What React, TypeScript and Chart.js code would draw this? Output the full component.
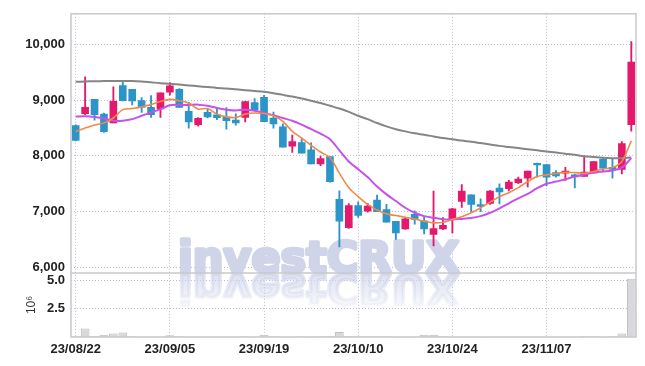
import React, { useEffect, useRef } from 'react';
import { Chart, registerables } from 'chart.js';
Chart.register(...registerables);

const dates = [
  '23/08/22','23/08/23','23/08/24','23/08/25','23/08/28','23/08/29','23/08/30','23/08/31',
  '23/09/01','23/09/04','23/09/05','23/09/06','23/09/07','23/09/08','23/09/11','23/09/12','23/09/13','23/09/14','23/09/15','23/09/18','23/09/19','23/09/20','23/09/21','23/09/22','23/09/25','23/09/26','23/09/27',
  '23/10/04','23/10/05','23/10/06','23/10/10','23/10/11','23/10/12','23/10/13','23/10/16','23/10/17','23/10/18','23/10/19','23/10/20','23/10/23','23/10/24','23/10/25','23/10/26','23/10/27','23/10/30','23/10/31',
  '23/11/01','23/11/02','23/11/03','23/11/06','23/11/07','23/11/08','23/11/09','23/11/10','23/11/13','23/11/14','23/11/15','23/11/16','23/11/17','23/11/20',
];

const opens = [8544,8756,9016,8751,8592,9263,9193,8993,8874,8844,9145,9193,8798,8562,8781,8738,8698,8645,8692,8957,9051,8680,8521,8173,8238,8109,7855,7986,7219,6713,7107,7007,7208,7037,6825,6689,6954,6837,6590,6689,6855,7183,7302,7125,7148,7425,7413,7519,7602,7867,7845,7703,7690,7660,7632,7696,7944,7797,7756,8562];
const highs = [8560,9417,9016,8768,9240,9340,9193,9046,9081,9134,9316,9210,8963,8690,8839,8869,8869,8756,8975,9028,9087,8786,8574,8374,8314,8233,7996,7990,7372,7143,7178,7148,7297,7130,6825,6885,7014,6913,7367,6895,7060,7484,7302,7230,7380,7500,7560,7620,7726,7870,7850,7738,7797,7670,8003,7900,7950,7944,8256,10053];
const lows = [8270,8740,8640,8420,8590,8986,8915,8781,8692,8692,9092,8869,8498,8533,8680,8650,8480,8551,8609,8827,8615,8498,8155,8062,8049,7855,7827,7530,6365,6700,6896,6990,7001,6812,6501,6680,6777,6600,6383,6678,6618,7077,7001,7000,7130,7137,7370,7500,7443,7620,7460,7620,7562,7425,7630,7690,7720,7602,7678,8445];
const closes = [8279,8874,8738,8433,8980,8993,8986,8869,8738,9134,9258,8869,8609,8675,8698,8685,8632,8592,8975,8827,8615,8574,8155,8256,8049,7855,7950,7537,6830,7107,6931,7102,7001,6812,6618,6872,6860,6689,6696,6754,7049,7367,7130,7095,7367,7355,7531,7584,7726,7837,7620,7643,7726,7625,7708,7897,7779,7756,8221,9682];

const ma5 = [8440,8500,8555,8590,8680,8830,8850,8880,8920,8975,9015,8990,8950,8840,8850,8750,8700,8690,8750,8770,8760,8720,8620,8440,8320,8190,8070,7970,7690,7430,7270,7130,7030,6960,6930,6900,6870,6830,6800,6810,6860,6910,6980,7070,7170,7270,7340,7430,7540,7630,7660,7685,7705,7700,7690,7720,7765,7790,7900,8270];
const ma20 = [8705,8710,8700,8670,8630,8633,8660,8720,8780,8840,8910,8915,8915,8920,8900,8860,8830,8815,8830,8810,8770,8730,8680,8630,8560,8480,8400,8300,8100,7900,7760,7620,7450,7310,7190,7070,6980,6920,6890,6865,6860,6870,6885,6920,6980,7060,7150,7240,7320,7420,7500,7540,7580,7630,7665,7700,7720,7740,7790,7960];
const ma60 = [9330,9335,9340,9343,9345,9346,9345,9335,9320,9305,9295,9280,9265,9250,9235,9220,9210,9195,9180,9165,9150,9125,9095,9065,9030,8990,8950,8900,8850,8790,8720,8660,8590,8530,8480,8440,8405,8380,8350,8320,8300,8275,8255,8230,8205,8180,8160,8140,8120,8100,8080,8060,8040,8020,7995,7980,7965,7960,7960,7970];

const volumes = [60000,750000,90000,200000,300000,400000,60000,50000,40000,50000,150000,60000,50000,40000,40000,50000,40000,40000,60000,50000,200000,60000,50000,40000,60000,50000,60000,80000,450000,90000,60000,60000,70000,60000,50000,40000,50000,200000,200000,60000,50000,40000,40000,30000,40000,50000,50000,40000,30000,40000,50000,40000,40000,50000,60000,60000,50000,60000,300000,5150000];

const priceTicks = [6000, 7000, 8000, 9000, 10000];
const volumeTicks = [2500000, 5000000];
const xTickEvery = 10;

const FONT = "'Liberation Sans', Arial, sans-serif";

export default function App() {
  const ref = useRef<HTMLCanvasElement>(null);
  useEffect(() => {
    const up = '#e5196c';
    const down = '#2c95c7';
    const colors = closes.map((c, i) => (c >= opens[i] ? up : down));
    const gridColor = '#bcbcd4';

    const watermark = {
      id: 'watermark',
      beforeDatasetsDraw(chart: any) {
        const { ctx, chartArea } = chart;
        const yp = chart.scales.y;
        const base = yp.bottom - 1;
        const x = chartArea.left + 107;
        const col = '207,212,233';
        ctx.save();
        ctx.font = "bold 43px 'DejaVu Sans', sans-serif";
        ctx.textBaseline = 'alphabetic';
        ctx.lineJoin = 'round';
        ctx.lineWidth = 3.5;
        ctx.fillStyle = `rgba(${col},1)`;
        ctx.strokeStyle = `rgba(${col},1)`;
        ctx.strokeText('investCRUX', x, base);
        ctx.fillText('investCRUX', x, base);
        ctx.beginPath();
        ctx.rect(chartArea.left, base + 1, chartArea.right - chartArea.left, chartArea.bottom - base);
        ctx.clip();
        ctx.translate(0, (base + 1) * 2);
        ctx.scale(1, -1);
        const g = ctx.createLinearGradient(0, base, 0, base - 40);
        g.addColorStop(0, `rgba(${col},0.7)`);
        g.addColorStop(1, `rgba(${col},0)`);
        ctx.fillStyle = g;
        ctx.strokeStyle = g;
        ctx.strokeText('investCRUX', x, base);
        ctx.fillText('investCRUX', x, base);
        ctx.restore();
      },
    };

    const frame = {
      id: 'frame',
      afterDraw(chart: any) {
        const { ctx, chartArea } = chart;
        const yp = chart.scales.y;
        ctx.save();
        ctx.strokeStyle = '#c8c8cc';
        ctx.lineWidth = 1.5;
        ctx.strokeRect(chartArea.left, chartArea.top, chartArea.right - chartArea.left, chartArea.bottom - chartArea.top);
        ctx.beginPath();
        ctx.moveTo(chartArea.left, yp.bottom);
        ctx.lineTo(chartArea.right, yp.bottom);
        ctx.stroke();
        ctx.restore();
      },
    };

    const chart = new Chart(ref.current as HTMLCanvasElement, {
      type: 'bar',
      data: {
        labels: dates,
        datasets: [
          {
            type: 'line', label: 'MA5', data: ma5, yAxisID: 'y', borderColor: '#f0894a', borderWidth: 1.6,
            pointRadius: 0, tension: 0.3, order: 0,
          } as any,
          {
            type: 'line', label: 'MA20', data: ma20, yAxisID: 'y', borderColor: '#c651ec', borderWidth: 2,
            pointRadius: 0, tension: 0.3, order: 0,
          } as any,
          {
            type: 'line', label: 'MA60', data: ma60, yAxisID: 'y', borderColor: '#858585', borderWidth: 2,
            pointRadius: 0, tension: 0.3, order: 0,
          } as any,
          {
            label: 'body', data: opens.map((o, i) => [o, closes[i]]), yAxisID: 'y', backgroundColor: colors,
            barThickness: 7, grouped: false, order: 1, borderWidth: 0,
          } as any,
          {
            label: 'wick', data: lows.map((l, i) => [l, highs[i]]), yAxisID: 'y', backgroundColor: colors,
            barThickness: 1.2, grouped: false, order: 2, borderWidth: 0,
          } as any,
          {
            label: 'volume', data: volumes, yAxisID: 'yv', backgroundColor: '#d9d9dd', borderColor: '#bdbdc2',
            borderWidth: 1, barPercentage: 0.92, categoryPercentage: 1, grouped: false, order: 3,
          } as any,
        ],
      },
      options: {
        animation: false,
        responsive: true,
        maintainAspectRatio: false,
        layout: { padding: { left: 0, right: 9, top: 9, bottom: 0 } },
        plugins: { legend: { display: false }, tooltip: { enabled: false } },
        scales: {
          x: {
            type: 'category',
            offset: true,
            border: { display: false, dash: [1, 2] },
            grid: {
              offset: false,
              drawTicks: false,
              color: (ctx: any) => (ctx.index % xTickEvery === 0 ? gridColor : 'rgba(0,0,0,0)'),
              lineWidth: 1,
            },
            ticks: {
              autoSkip: false,
              maxRotation: 0,
              padding: 5,
              color: '#222',
              font: { family: FONT, size: 13, weight: 'bold' },
              callback: (v: any, i: number) => (i % xTickEvery === 0 ? dates[i] : ''),
            },
            afterFit: (s: any) => { s.height = 29; },
          } as any,
          yv: {
            type: 'linear',
            position: 'left',
            stack: 'main',
            stackWeight: 65,
            min: 0,
            max: 5665000,
            border: { display: false, dash: [1, 2] },
            grid: { color: gridColor, drawTicks: false, lineWidth: 1 },
            title: {
              display: true,
              text: '10⁶',
              color: '#333',
              font: { family: FONT, size: 12 },
              padding: { top: 24, bottom: 0 },
            },
            ticks: {
              padding: 6,
              color: '#222',
              font: { family: FONT, size: 13, weight: 'bold' },
              callback: (v: any) => (Number(v) / 1e6).toFixed(1),
            },
            afterBuildTicks: (s: any) => { s.ticks = volumeTicks.map((v) => ({ value: v })); },
            afterFit: (s: any) => { s.width = 71; },
          } as any,
          y: {
            type: 'linear',
            position: 'left',
            stack: 'main',
            stackWeight: 263,
            min: 5900,
            max: 10550,
            border: { display: false, dash: [1, 2] },
            grid: { color: gridColor, drawTicks: false, lineWidth: 1 },
            ticks: {
              padding: 6,
              color: '#222',
              font: { family: FONT, size: 13, weight: 'bold' },
              callback: (v: any) => Number(v).toLocaleString('en-US'),
            },
            afterBuildTicks: (s: any) => { s.ticks = priceTicks.map((v) => ({ value: v })); },
            afterFit: (s: any) => { s.width = 71; },
          } as any,
        },
      },
      plugins: [watermark, frame],
    } as any);

    return () => chart.destroy();
  }, []);

  return (
    <div style={{ position: 'absolute', left: 0, top: 0, width: 645, height: 366 }}>
      <canvas ref={ref} />
    </div>
  );
}
